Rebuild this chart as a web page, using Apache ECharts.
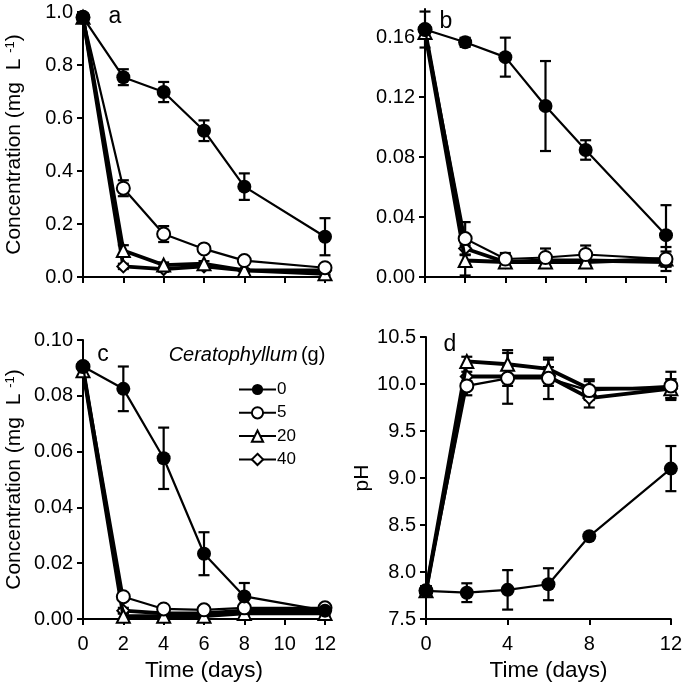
<!DOCTYPE html>
<html><head><meta charset="utf-8">
<script src="https://cdn.jsdelivr.net/npm/echarts@6/dist/echarts.min.js"></script>
<style>html,body{margin:0;padding:0;background:#fff}#c{width:685px;height:685px}</style>
</head><body><div id="c"></div>
<script>
const days = [0, 2, 4, 6, 8, 12];
const seriesNames = ['0', '5', '20', '40'];

// Panel a
const a0 = [0.98, 0.754, 0.698, 0.552, 0.341, 0.152];
const a5 = [0.98, 0.335, 0.162, 0.106, 0.062, 0.035];
const a20 = [0.98, 0.10, 0.045, 0.05, 0.025, 0.012];
const a40 = [0.98, 0.04, 0.03, 0.04, 0.025, 0.025];
const a0e = [0, 0.03, 0.038, 0.039, 0.05, 0.07];
const a5e = [0, 0.03, 0.03, 0.01, 0.01, 0.01];
const a20e = [0, 0.02, 0.01, 0.01, 0.005, 0.005];
const a40e = [0, 0.01, 0.01, 0.01, 0.005, 0.005];
// Panel b
const b0 = [0.165, 0.1565, 0.1466, 0.114, 0.0847, 0.0279];
const b5 = [0.165, 0.0256, 0.012, 0.013, 0.015, 0.012];
const b20 = [0.163, 0.011, 0.010, 0.010, 0.010, 0.012];
const b40 = [0.165, 0.019, 0.010, 0.011, 0.011, 0.010];
const b0e = [0.012, 0.003, 0.013, 0.03, 0.0065, 0.02];
const b5e = [0, 0.011, 0.004, 0.006, 0.006, 0.005];
const b20e = [0, 0.01, 0.003, 0.003, 0.003, 0.008];
const b40e = [0, 0.004, 0.003, 0.003, 0.003, 0.003];
// Panel c
const c0 = [0.0905, 0.0825, 0.0576, 0.0234, 0.0081, 0.003];
const c5 = [0.0905, 0.008, 0.0036, 0.0033, 0.004, 0.004];
const c20 = [0.089, 0.001, 0.001, 0.001, 0.002, 0.002];
const c40 = [0.090, 0.003, 0.002, 0.002, 0.003, 0.003];
const c0e = [0.001, 0.008, 0.011, 0.0077, 0.0048, 0.001];
const c5e = [0, 0.001, 0.001, 0.001, 0.001, 0.001];
const c20e = [0, 0.001, 0.001, 0.001, 0.001, 0.001];
const c40e = [0, 0.001, 0.001, 0.001, 0.001, 0.001];
// Panel d (pH)
const d0 = [7.8, 7.78, 7.81, 7.87, 8.38, 9.1];
const d5 = [7.8, 9.98, 10.06, 10.06, 9.93, 9.98];
const d20 = [7.8, 10.24, 10.21, 10.16, 9.95, 9.95];
const d40 = [7.8, 10.08, 10.08, 10.08, 9.85, 9.95];
const d0e = [0.05, 0.1, 0.21, 0.17, 0.03, 0.24];
const d5e = [0.05, 0.1, 0.27, 0.22, 0.1, 0.15];
const d20e = [0.05, 0.05, 0.15, 0.1, 0.1, 0.1];
const d40e = [0.05, 0.05, 0.1, 0.1, 0.1, 0.1];

const yTicksA = [0, 1, 0.2];
const yTicksB = [0, 0.1787, 0.04];
const yTicksC = [0, 0.10, 0.02];
const yTicksD = [7.5, 10.5, 0.5];

const FONT = 'Liberation Sans, Arial, sans-serif';
const panels = [
  {vals: [a0, a5, a20, a40], errs: [a0e, a5e, a20e, a40e]},
  {vals: [b0, b5, b20, b40], errs: [b0e, b5e, b20e, b40e]},
  {vals: [c0, c5, c20, c40], errs: [c0e, c5e, c20e, c40e]},
  {vals: [d0, d5, d20, d40], errs: [d0e, d5e, d20e, d40e]}
];
const styles = [
  {symbol: 'circle', size: 14, lw: 2.2, bw: 0},
  {symbol: 'emptyCircle', size: 13, lw: 2.2, bw: 3},
  {symbol: 'emptyTriangle', size: 13, lw: 3.8, bw: 2.5},
  {symbol: 'emptyDiamond', size: 12, lw: 3.8, bw: 3}
];

const grids = [
  {left: 83, top: 12, width: 242, height: 265},
  {left: 425, top: 9, width: 241, height: 268},
  {left: 83, top: 340, width: 242, height: 279},
  {left: 426, top: 337, width: 247, height: 282}
];

const axisLineStyle = {lineStyle: {color: '#000', width: 2}};
const tickStyle = {show: true, inside: false, length: 6, lineStyle: {color: '#000', width: 2}};
const labelStyle = {color: '#000', fontSize: 20, fontFamily: FONT};
const nameStyleY = {
  color: '#000', fontSize: 21, fontFamily: FONT,
  rich: {sup: {fontSize: 13, fontFamily: FONT, color: '#000', verticalAlign: 'top', lineHeight: 13}}
};

const xAxes = [0, 1, 2, 3].map(i => ({
  type: 'value', gridIndex: i, min: 0, max: 12, interval: i === 3 ? 4 : 2,
  axisLine: axisLineStyle, axisTick: tickStyle, splitLine: {show: false},
  axisLabel: Object.assign({show: i >= 2, margin: 15}, labelStyle),
  name: i >= 2 ? 'Time (days)' : '', nameLocation: 'middle', nameGap: 40,
  nameTextStyle: {color: '#000', fontSize: 22.5, fontFamily: FONT}
}));
const yt = [yTicksA, yTicksB, yTicksC, yTicksD];
const yDec = [1, 2, 2, 1];
const yNames = ['Concentration (mg  L {sup|-1})', '', 'Concentration (mg  L {sup|-1})', 'pH'];
const yGaps = [58, 50, 58, 51];
const yAxes = [0, 1, 2, 3].map(i => ({
  type: 'value', gridIndex: i, min: yt[i][0], max: yt[i][1], interval: yt[i][2],
  axisLine: Object.assign({show: true}, axisLineStyle), axisTick: tickStyle, splitLine: {show: false},
  axisLabel: Object.assign({margin: 10, showMaxLabel: i !== 1, formatter: v => v.toFixed(yDec[i])}, labelStyle),
  name: yNames[i], nameLocation: 'middle', nameGap: yGaps[i], nameTextStyle: nameStyleY
}));

function errRender(params, api) {
  const x = api.value(0), y = api.value(1), e = api.value(2);
  if (!e) return null;
  const t = api.coord([x, y + e]), b = api.coord([x, y - e]);
  const w = 5.5;
  const st = {stroke: '#000', lineWidth: 2.2};
  return {type: 'group', children: [
    {type: 'line', shape: {x1: t[0], y1: t[1], x2: b[0], y2: b[1]}, style: st},
    {type: 'line', shape: {x1: t[0] - w, y1: t[1], x2: t[0] + w, y2: t[1]}, style: st},
    {type: 'line', shape: {x1: b[0] - w, y1: b[1], x2: b[0] + w, y2: b[1]}, style: st}
  ]};
}

const series = [];
panels.forEach((p, i) => {
  [3, 2, 1, 0].forEach(s => {
    series.push({
      type: 'custom', xAxisIndex: i, yAxisIndex: i, z: 2, clip: false, silent: true,
      renderItem: errRender, encode: {x: 0, y: 1},
      data: days.map((d, k) => [d, p.vals[s][k], p.errs[s][k]])
    });
  });
  [3, 2, 1, 0].forEach(s => {
    const st = styles[s];
    series.push({
      type: 'line', name: seriesNames[s], xAxisIndex: i, yAxisIndex: i, z: 3 + (3 - s) * 0.1,
      data: days.map((d, k) => [d, p.vals[s][k]]),
      symbol: st.symbol, symbolSize: st.size, showAllSymbol: true,
      lineStyle: {color: '#000', width: st.lw},
      itemStyle: {color: '#000', borderColor: '#000', borderWidth: st.bw},
      emphasis: {disabled: true}, animation: false
    });
  });
});

const chart = echarts.init(document.getElementById('c'), null, {renderer: 'canvas'});
chart.setOption({
  animation: false,
  backgroundColor: '#fff',
  grid: grids,
  xAxis: xAxes,
  yAxis: yAxes,
  legend: {
    data: seriesNames, orient: 'vertical', left: 238, top: 381, padding: 0,
    itemWidth: 37, itemHeight: 14, itemGap: 6.3, selectedMode: false,
    textStyle: {color: '#000', fontSize: 17, fontFamily: FONT, lineHeight: 14, padding: [0, 0, 0, -4]}
  },
  graphic: [
    {type: 'text', x: 115, y: 17, style: {text: 'a', font: '23px ' + FONT, fill: '#000', align: 'center', verticalAlign: 'middle'}},
    {type: 'text', x: 446, y: 22, style: {text: 'b', font: '23px ' + FONT, fill: '#000', align: 'center', verticalAlign: 'middle'}},
    {type: 'text', x: 103, y: 355, style: {text: 'c', font: '23px ' + FONT, fill: '#000', align: 'center', verticalAlign: 'middle'}},
    {type: 'text', x: 450, y: 345, style: {text: 'd', font: '23px ' + FONT, fill: '#000', align: 'center', verticalAlign: 'middle'}},
    {type: 'text', x: 247, y: 355, style: {
      text: '{i|Ceratophyllum} {n|(g)}', align: 'center', verticalAlign: 'middle',
      rich: {i: {fontStyle: 'italic', fontSize: 20, fontFamily: FONT, fill: '#000'}, n: {fontSize: 20, fontFamily: FONT, fill: '#000'}}
    }}
  ],
  series: series
});
</script></body></html>
